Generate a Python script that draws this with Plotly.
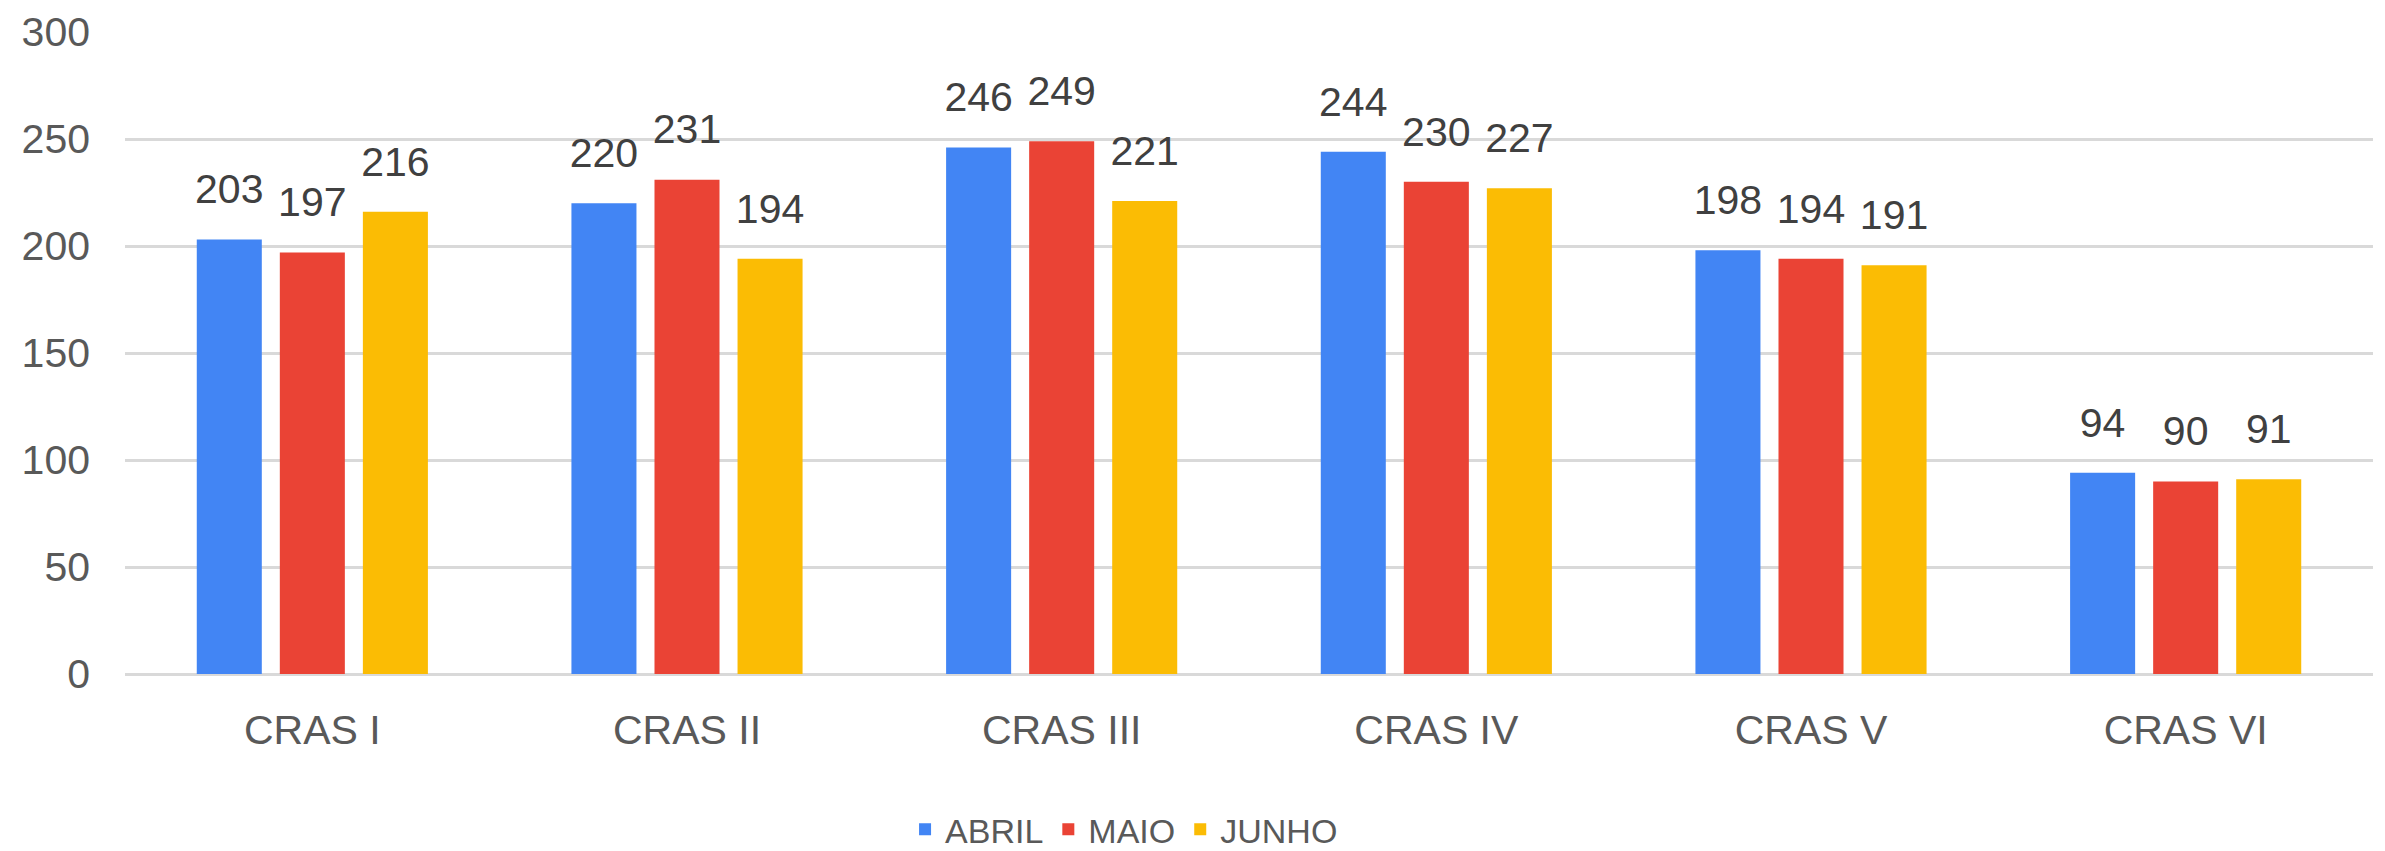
import plotly.graph_objects as go

categorias = ["CRAS I", "CRAS II", "CRAS III", "CRAS IV", "CRAS V", "CRAS VI"]
abril = [203, 220, 246, 244, 198, 94]
maio = [197, 231, 249, 230, 194, 90]
junho = [216, 194, 221, 227, 191, 91]

series = [("ABRIL", abril, "#4285F4"), ("MAIO", maio, "#EA4335"), ("JUNHO", junho, "#FBBC04")]

fonte = "Liberation Sans, Arial, sans-serif"
fig = go.Figure()
for nome, vals, cor in series:
    fig.add_trace(go.Bar(x=categorias, y=vals, name=nome, marker_color=cor, marker_line_width=0))
# rótulos de dados acima das barras
for nome, vals, cor in series:
    fig.add_trace(go.Scatter(x=categorias, y=vals, mode="markers+text", text=[str(v) for v in vals],
                             textposition="top center", textfont=dict(size=41, color="#404040", family=fonte),
                             marker=dict(size=40, color="rgba(0,0,0,0)"), showlegend=False, hoverinfo="skip",
                             cliponaxis=False))

fig.update_layout(
    width=2385, height=851, margin=dict(l=125, r=12, t=32, b=177),
    plot_bgcolor="white", paper_bgcolor="white",
    barmode="group", bargap=0.335, bargroupgap=0.217,
    scattermode="group", scattergap=0.335,
    font=dict(family=fonte, size=41, color="#595959"),
    legend=dict(orientation="h", x=0.347, xanchor="left", yref="container", y=0.025, yanchor="middle",
                font=dict(size=34, color="#595959"), itemwidth=30),
    showlegend=True,
)
fig.update_yaxes(range=[0, 300], dtick=50, showgrid=True, gridcolor="#D9D9D9", gridwidth=3,
                 zeroline=True, zerolinecolor="#D9D9D9", zerolinewidth=3, ticklabelstandoff=34,
                 showline=False, automargin=False)
fig.update_xaxes(showgrid=False, ticklabelstandoff=28, showline=False, automargin=False)
fig.write_html("out.html", config={"displayModeBar": False}, post_script="document.body.style.margin='0';")
